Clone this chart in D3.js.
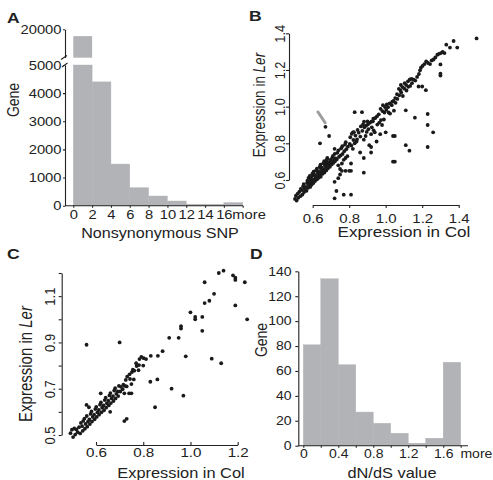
<!DOCTYPE html>
<html>
<head>
<meta charset="utf-8">
<script src="https://cdn.jsdelivr.net/npm/d3@7"></script>
<style>
  body { margin: 0; background: #fff; }
  svg { font-family: "Liberation Sans", Arial, sans-serif; }
  .axis path, .axis line { stroke: #222; stroke-width: 1.1; fill: none; }
  .axis text { fill: #222; }
</style>
</head>
<body>
<svg width="493" height="480"></svg>
<script>
// panel A: nonsynonymous SNP histogram
const snpLabels = ["0", "2", "4", "6", "8", "10", "12", "14", "16", "more"];
const snpCounts = [18800, 4400, 1480, 640, 344, 167, 55, 55, 110];

// panel D: dN/dS histogram
const dnLabels = ["0", "", "0.4", "", "0.8", "", "1.2", "", "1.6", "more"];
const dnCounts = [81, 134, 65, 27, 18, 10, 2, 6, 67];

// panel B: expression Col vs Ler  [Col, Ler]
const pointsB = [
  [0.503,0.497],[0.512,0.488],[0.508,0.514],[0.521,0.503],[0.518,0.526],[0.532,0.512],[0.527,0.536],[0.535,0.552],
  [0.544,0.521],[0.541,0.545],[0.548,0.566],[0.553,0.534],[0.556,0.551],[0.551,0.578],[0.566,0.541],[0.563,0.562],
  [0.569,0.583],[0.574,0.557],[0.578,0.574],[0.571,0.596],[0.577,0.612],[0.586,0.562],[0.583,0.587],[0.589,0.603],
  [0.584,0.622],[0.594,0.574],[0.597,0.592],[0.592,0.611],[0.598,0.634],[0.604,0.583],[0.607,0.602],[0.602,0.624],
  [0.605,0.645],[0.613,0.594],[0.616,0.611],[0.611,0.628],[0.618,0.652],[0.624,0.604],[0.621,0.619],[0.627,0.638],
  [0.623,0.662],[0.633,0.612],[0.636,0.629],[0.631,0.647],[0.638,0.671],[0.644,0.618],[0.641,0.642],[0.647,0.659],
  [0.643,0.684],[0.653,0.633],[0.656,0.648],[0.651,0.668],[0.658,0.692],[0.664,0.641],[0.661,0.657],[0.667,0.679],
  [0.663,0.703],[0.674,0.652],[0.672,0.671],[0.676,0.688],[0.678,0.712],[0.683,0.663],[0.686,0.681],[0.681,0.698],
  [0.694,0.672],[0.692,0.693],[0.697,0.709],[0.704,0.684],[0.702,0.701],[0.707,0.722],[0.713,0.693],[0.716,0.708],
  [0.711,0.731],[0.722,0.702],[0.726,0.718],[0.721,0.743],
  [0.732,0.712],[0.735,0.748],[0.744,0.726],[0.741,0.762],[0.753,0.734],[0.756,0.773],[0.764,0.742],[0.762,0.784],
  [0.773,0.757],[0.777,0.793],[0.784,0.768],[0.781,0.806],[0.793,0.782],[0.803,0.797],[0.806,0.833],[0.812,0.788],
  [0.814,0.852],[0.823,0.818],[0.826,0.861],[0.834,0.842],[0.843,0.822],[0.846,0.873],[0.852,0.858],[0.861,0.837],
  [0.864,0.892],[0.872,0.868],[0.876,0.903],[0.883,0.887],[0.881,0.918],[0.893,0.897],[0.896,0.862],[0.902,0.903],
  [0.905,0.877],[0.913,0.912],[0.921,0.918],[0.924,0.887],[0.932,0.934],[0.934,0.871],[0.943,0.938],[0.952,0.947],
  [0.954,0.902],[0.962,0.958],[0.965,0.913],[0.972,0.988],[0.974,0.927],[0.982,0.976],[0.985,1.008],[0.993,0.968],
  [0.996,0.998],[1.003,0.982],[1.006,1.012],[1.013,0.997],[1.016,0.968],[1.022,1.018],[1.024,0.962],[1.033,1.008],
  [1.036,1.027],[1.043,1.032],[1.045,0.978],[1.052,1.047],[1.054,1.021],[1.062,1.068],[1.064,1.042],[1.072,1.097],
  [1.074,1.062],[1.081,1.088],[1.085,1.077],[1.083,1.118],[1.092,1.107],[1.094,1.058],[1.102,1.098],[1.104,1.128],
  [1.112,1.118],[1.114,1.088],[1.122,1.138],[1.124,1.108],[1.132,1.148],[1.134,1.113],[1.142,1.152],[1.144,1.128],
  [1.153,1.147],[1.162,1.142],[1.172,1.162],[1.182,1.178],[1.188,1.198],[1.193,1.212],[1.202,1.222],[1.212,1.232],
  [1.222,1.247],[1.232,1.238],[1.243,1.232],[1.252,1.252],[1.262,1.257],[1.272,1.268],[1.283,1.283],[1.292,1.288],
  [1.302,1.292],[1.312,1.298],[1.322,1.292],[1.332,1.338],[1.352,1.322],[1.372,1.358],[1.392,1.322],[1.498,1.372],
  [0.64,0.80],[0.67,0.89],[0.69,0.84],[0.68,0.72],[0.67,0.70],[0.72,0.59],[0.73,0.54],[0.72,0.50],
  [0.77,0.52],[0.81,0.52],[0.74,0.61],[0.75,0.63],[0.76,0.65],[0.78,0.65],[0.80,0.65],[0.81,0.65],
  [0.76,0.69],[0.79,0.73],[0.81,0.69],[0.88,0.64],[0.72,0.77],[0.83,0.97],[0.87,0.97],[0.86,0.75],
  [0.88,0.72],[0.92,0.75],[0.92,0.78],[0.91,0.79],[0.95,0.81],[0.92,0.85],[0.97,0.85],[1.00,0.86],
  [1.04,0.84],[1.05,0.84],[1.04,0.70],[1.05,0.70],[1.11,0.79],[1.13,0.76],[1.11,0.98],[1.16,0.94],
  [1.23,0.96],[1.23,0.90],[1.26,0.86],[1.23,0.78],[1.18,1.11],[1.20,1.11],[1.22,1.09],[1.30,1.23],
  [1.30,1.18],[1.30,1.17],[0.82,0.86],[0.83,0.80],[0.84,0.81],[0.82,0.77],[0.89,0.84],[0.88,0.82],
  [0.90,0.92],[0.93,0.92],[0.94,0.86],[0.99,0.93],[0.98,0.90],[0.77,0.71],[0.78,0.72],[0.74,0.68],
  [0.75,0.66]
];

// panel C: expression Col vs Ler  [Col, Ler]
const pointsC = [
  [0.492,0.508],[0.503,0.491],[0.498,0.523],[0.512,0.502],[0.508,0.528],[0.522,0.512],[0.517,0.524],[0.533,0.507],
  [0.528,0.534],[0.536,0.552],[0.544,0.518],[0.541,0.538],[0.546,0.561],[0.553,0.527],[0.556,0.548],[0.551,0.571],
  [0.563,0.536],[0.566,0.558],[0.561,0.582],[0.574,0.547],[0.572,0.567],[0.577,0.591],[0.583,0.558],[0.586,0.578],
  [0.581,0.602],[0.594,0.568],[0.592,0.588],[0.597,0.612],[0.603,0.578],[0.606,0.598],[0.601,0.621],[0.613,0.588],
  [0.612,0.608],[0.617,0.631],[0.623,0.598],[0.626,0.618],[0.621,0.641],[0.634,0.607],[0.632,0.628],[0.637,0.651],
  [0.643,0.618],[0.646,0.637],[0.641,0.661],[0.654,0.628],[0.652,0.648],[0.657,0.671],[0.663,0.638],[0.666,0.658],
  [0.661,0.681],[0.674,0.647],[0.672,0.668],[0.677,0.692],[0.683,0.658],[0.686,0.678],[0.681,0.702],[0.694,0.668],
  [0.692,0.688],[0.697,0.712],[0.703,0.688],[0.706,0.708],[0.713,0.698],[0.716,0.718],[0.722,0.712],[0.726,0.738],
  [0.732,0.752],[0.742,0.762],[0.744,0.742],[0.752,0.772],[0.756,0.782],[0.762,0.778],[0.772,0.798],[0.782,0.802],
  [0.784,0.828],[0.792,0.838],[0.802,0.832],[0.812,0.828],[0.832,0.842],[0.862,0.842],[0.882,0.862],
  [0.56,0.89],[0.70,0.90],[0.56,0.63],[0.57,0.62],[0.66,0.60],[0.62,0.68],[0.73,0.57],[0.72,0.56],
  [0.73,0.71],[0.74,0.68],[0.72,0.68],[0.75,0.68],[0.75,0.72],[0.76,0.74],[0.78,0.78],[0.77,0.81],
  [0.80,0.80],[0.83,0.73],[0.86,0.74],[0.85,0.62],[0.92,0.70],[0.97,0.67],[0.91,0.92],[0.95,0.92],
  [0.96,0.96],[0.96,0.97],[0.98,0.84],[1.00,1.03],[1.02,1.01],[1.02,1.00],[1.05,1.01],[1.05,0.95],
  [1.06,1.07],[1.08,1.08],[1.10,1.11],[1.06,1.16],[1.09,0.83],[1.13,0.81],[1.12,1.20],[1.14,1.21],
  [1.18,1.19],[1.19,1.18],[1.19,1.17],[1.23,1.16],[1.19,1.06],[1.24,1.00]
];

const SX = 1.17;          // source figure is stretched horizontally
const GRAY = "#b2b3b6";
const INK = "#1a1a1a";
const FONT = '"Liberation Sans", Arial, sans-serif';

const svg = d3.select("svg");
svg.append("rect").attr("width", 493).attr("height", 480).attr("fill", "#fff");

function txt(x, y, s, size, opts = {}) {
  const t = svg.append("text")
    .attr("transform", `translate(${x},${y}) scale(${SX},1)` + (opts.rot ? " rotate(-90)" : ""))
    .attr("text-anchor", opts.anchor || "middle")
    .attr("font-size", size)
    .attr("font-weight", opts.bold ? "bold" : null)
    .attr("fill", "#222");
  if (opts.ler) {
    t.append("tspan").text("Expression in ");
    t.append("tspan").attr("font-style", "italic").text("Ler");
  } else {
    t.text(s);
  }
  return t;
}

function styleAxis(g, size) {
  g.attr("class", "axis").attr("font-family", FONT).attr("font-size", size);
  g.selectAll(".tick text").attr("transform", `scale(${SX},1)`);
  return g;
}

function rotateTicks(g, off) {
  g.selectAll(".tick text")
    .attr("x", 0).attr("y", 0).attr("dy", "0.35em")
    .attr("text-anchor", "middle")
    .attr("transform", `translate(${-off},0) scale(${SX},1) rotate(-90)`);
}

// ---------- A ----------
const xA = d3.scaleLinear().domain([0, 18]).range([73.3, 242.7]);
const yA = d3.scaleLinear().domain([0, 5000]).range([205.7, 65]);
const yAtop = d3.scaleLinear().domain([15000, 20000]).range([57.7, 29.3]);
const binW = xA(2) - xA(0);

svg.append("g").selectAll("rect")
  .data(snpCounts)
  .join("rect")
  .attr("x", (d, i) => xA(i * 2))
  .attr("width", binW)
  .attr("y", d => yA(Math.min(d, 5000)))
  .attr("height", d => yA(0) - yA(Math.min(d, 5000)))
  .attr("fill", GRAY).attr("stroke", GRAY).attr("stroke-width", 0.4);

svg.append("g").selectAll("rect")
  .data(snpCounts.filter(d => d > 5000))
  .join("rect")
  .attr("x", xA(0))
  .attr("width", binW)
  .attr("y", d => yAtop(d))
  .attr("height", d => yAtop(15000) - yAtop(d))
  .attr("fill", GRAY);

styleAxis(svg.append("g").attr("transform", "translate(65,0)")
  .call(d3.axisLeft(yA).tickValues(d3.range(0, 5001, 1000)).tickFormat(d3.format("d"))
    .tickSize(2).tickPadding(1).tickSizeOuter(0)), 12.6);
styleAxis(svg.append("g").attr("transform", "translate(65,0)")
  .call(d3.axisLeft(yAtop).tickValues([20000]).tickFormat(d3.format("d"))
    .tickSize(2).tickPadding(1).tickSizeOuter(0)), 12.6);

const gAx = styleAxis(svg.append("g").attr("transform", "translate(0,205.7)")
  .call(d3.axisBottom(xA).tickValues(d3.range(0, 19, 2)).tickFormat((d, i) => snpLabels[i])
    .tickSize(2).tickPadding(2).tickSizeOuter(0)), 12.6);
gAx.select(".domain").attr("d", "M65,0H243");
gAx.selectAll(".tick text").filter(d => d === 18).attr("dx", 5);

// axis break marks
svg.append("rect").attr("x", 63).attr("y", 58.3).attr("width", 4).attr("height", 5.5).attr("fill", "#fff");
svg.append("g").attr("class", "axis").selectAll("line")
  .data([[61, 59.5, 67, 55.5], [62, 67, 67.5, 63]])
  .join("line")
  .attr("x1", d => d[0]).attr("y1", d => d[1]).attr("x2", d => d[2]).attr("y2", d => d[3]);

txt(7, 23, "A", 15, { bold: true, anchor: "start" });
txt(19, 100, "Gene", 14, { rot: true });
txt(160, 237.5, "Nonsynonymous SNP", 13.8);

// ---------- B ----------
const xB = d3.scaleLinear().domain([0.6, 1.4]).range([312.7, 458.7]);
const yB = d3.scaleLinear().domain([0.6, 1.4]).range([180, 33.3]);

styleAxis(svg.append("g").attr("transform", "translate(0,205)")
  .call(d3.axisBottom(xB).tickValues([0.6, 0.8, 1.0, 1.2, 1.4]).tickFormat(d3.format(".1f"))
    .tickSize(3).tickPadding(6).tickSizeOuter(0)), 12.8);
const gBy = styleAxis(svg.append("g").attr("transform", "translate(289,0)")
  .call(d3.axisLeft(yB).tickValues([0.6, 0.8, 1.0, 1.2, 1.4]).tickFormat(d3.format(".1f"))
    .tickSize(3).tickSizeOuter(0)), 12.8);
rotateTicks(gBy, 9);

svg.append("g").selectAll("circle")
  .data(pointsB)
  .join("circle")
  .attr("cx", d => xB(d[0]))
  .attr("cy", d => yB(d[1]))
  .attr("r", 1.9)
  .attr("fill", INK);

// grey arrow
svg.append("line")
  .attr("x1", xB(0.629)).attr("y1", yB(0.971))
  .attr("x2", xB(0.668)).attr("y2", yB(0.912))
  .attr("stroke", "#8c8c8c").attr("stroke-width", 3).attr("stroke-linecap", "round")
  .attr("opacity", 0.85);

txt(249, 21, "B", 15, { bold: true, anchor: "start" });
txt(265, 105, "", 13.5, { rot: true, ler: true });
txt(404, 237.3, "Expression in Col", 14.6);

// ---------- C ----------
const xC = d3.scaleLinear().domain([0.6, 1.2]).range([96, 237.7]);
const yC = d3.scaleLinear().domain([0.5, 1.2]).range([435, 273]);

styleAxis(svg.append("g").attr("transform", "translate(0,445)")
  .call(d3.axisBottom(xC).tickValues([0.6, 0.8, 1.0, 1.2]).tickFormat(d3.format(".1f"))
    .tickSize(-3).tickPadding(3).tickSizeOuter(0)), 13);
const gCy = styleAxis(svg.append("g").attr("transform", "translate(61.7,0)")
  .call(d3.axisLeft(yC).tickValues([0.5, 0.6, 0.7, 0.8, 0.9, 1.0, 1.1, 1.2])
    .tickFormat(d => [0.5, 0.7, 0.9, 1.1].includes(d) ? d3.format(".1f")(d) : "")
    .tickSize(3).tickSizeOuter(0)), 13);
rotateTicks(gCy, 12.5);

svg.append("g").selectAll("circle")
  .data(pointsC)
  .join("circle")
  .attr("cx", d => xC(d[0]))
  .attr("cy", d => yC(d[1]))
  .attr("r", 1.9)
  .attr("fill", INK);

txt(7, 259, "C", 15, { bold: true, anchor: "start" });
txt(32, 364, "", 15, { rot: true, ler: true });
txt(181, 478, "Expression in Col", 14);

// ---------- D ----------
const xD = d3.scaleLinear().domain([0, 1.8]).range([303.3, 460.7]);
const yD = d3.scaleLinear().domain([0, 140]).range([445.7, 271.3]);
const dW = xD(0.2) - xD(0);

svg.append("g").selectAll("rect")
  .data(dnCounts)
  .join("rect")
  .attr("x", (d, i) => xD(i * 0.2))
  .attr("width", dW)
  .attr("y", d => yD(d))
  .attr("height", d => yD(0) - yD(d))
  .attr("fill", GRAY).attr("stroke", GRAY).attr("stroke-width", 0.4);

styleAxis(svg.append("g").attr("transform", "translate(298.3,0)")
  .call(d3.axisLeft(yD).tickValues(d3.range(0, 141, 20)).tickSize(3).tickPadding(2.7).tickSizeOuter(0)), 12);
const gDx = styleAxis(svg.append("g").attr("transform", "translate(0,445.7)")
  .call(d3.axisBottom(xD).tickValues(d3.range(10).map(i => i * 0.2)).tickFormat((d, i) => dnLabels[i])
    .tickSize(2).tickPadding(2).tickSizeOuter(0)), 12);
gDx.select(".domain").attr("d", "M298.3,0H468");
gDx.selectAll(".tick text").filter((d, i) => i === 9).attr("dx", 13);

txt(250, 259, "D", 15, { bold: true, anchor: "start" });
txt(266.5, 340, "Gene", 14, { rot: true });
txt(392, 478, "dN/dS value", 14);
</script>
</body>
</html>
